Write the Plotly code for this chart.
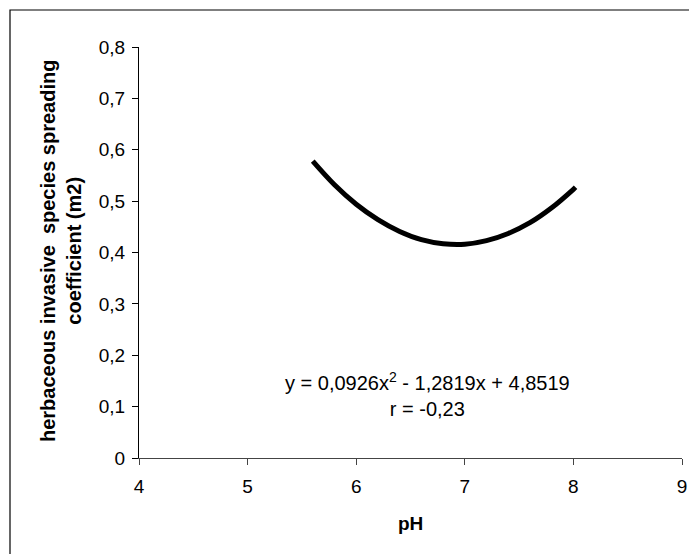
import plotly.graph_objects as go

# Curve values (pH vs spreading coefficient)
ph_values = [5.6, 5.8, 6.0, 6.2, 6.4, 6.6, 6.8, 7.0, 7.2, 7.4, 7.6, 7.8, 8.0, 8.02]
coef_values = [0.578, 0.532, 0.494, 0.464, 0.441, 0.425, 0.417, 0.416, 0.423, 0.437, 0.458, 0.487, 0.523, 0.527]

x_ticks = [4, 5, 6, 7, 8, 9]
y_ticks = [0, 0.1, 0.2, 0.3, 0.4, 0.5, 0.6, 0.7, 0.8]
y_tick_labels = ["0", "0,1", "0,2", "0,3", "0,4", "0,5", "0,6", "0,7", "0,8"]

equation_text = "y = 0,0926x<sup>2</sup> - 1,2819x + 4,8519<br>r = -0,23"
y_title = "herbaceous invasive&nbsp; species spreading<br>coefficient (m2)"
x_title = "pH"

FONT = "Liberation Sans, Arial, sans-serif"
OFF = 8  # page body margin
W, H = 697, 554
ML, MR, MT, MB = 131, 23, 39, 104
PW, PH = W - ML - MR, H - MT - MB

def px_x(px):
    return (px - OFF - ML) / PW

def px_y(py):
    return (H - MB - (py - OFF)) / PH

fig = go.Figure()
fig.add_trace(go.Scatter(
    x=ph_values, y=coef_values, mode="lines",
    line=dict(color="black", width=5, shape="spline"),
    hoverinfo="skip", showlegend=False,
))

fig.add_annotation(
    x=6.66, y=0.123, xref="x", yref="y", text=equation_text,
    showarrow=False, font=dict(family=FONT, size=20, color="black"),
    align="center", xanchor="center", yanchor="middle",
)
fig.add_annotation(
    x=px_x(61), y=px_y(251), xref="paper", yref="paper", text="<b>" + y_title + "</b>",
    textangle=-90, showarrow=False, font=dict(family=FONT, size=20, color="black"),
    align="center", xanchor="center", yanchor="middle",
)
fig.add_annotation(
    x=px_x(410), y=px_y(523), xref="paper", yref="paper", text="<b>" + x_title + "</b>",
    showarrow=False, font=dict(family=FONT, size=19, color="black"),
    xanchor="center", yanchor="middle",
)

# outer frame (left and top edges visible in the picture)
fig.add_shape(type="rect", xref="paper", yref="paper",
              x0=px_x(10), x1=px_x(694), y0=px_y(620), y1=px_y(10),
              line=dict(color="black", width=1.2), layer="below")

fig.update_layout(
    width=W, height=H,
    margin=dict(l=ML, r=MR, t=MT, b=MB),
    paper_bgcolor="white", plot_bgcolor="white",
    font=dict(family=FONT, size=19, color="black"),
)
fig.update_xaxes(
    range=[4, 9], tickvals=x_ticks, ticktext=[str(v) for v in x_ticks],
    showgrid=False, zeroline=False, showline=True, linecolor="#444", linewidth=1,
    ticks="outside", ticklen=6, tickcolor="#444", tickfont=dict(size=19),
    ticklabelstandoff=5,
)
fig.update_yaxes(
    range=[0, 0.8], tickvals=y_ticks, ticktext=y_tick_labels,
    showgrid=False, zeroline=False, showline=True, linecolor="black", linewidth=1,
    ticks="outside", ticklen=6, tickcolor="black", tickfont=dict(size=19),
    ticklabelstandoff=3,
)

fig.write_html("out.html")
